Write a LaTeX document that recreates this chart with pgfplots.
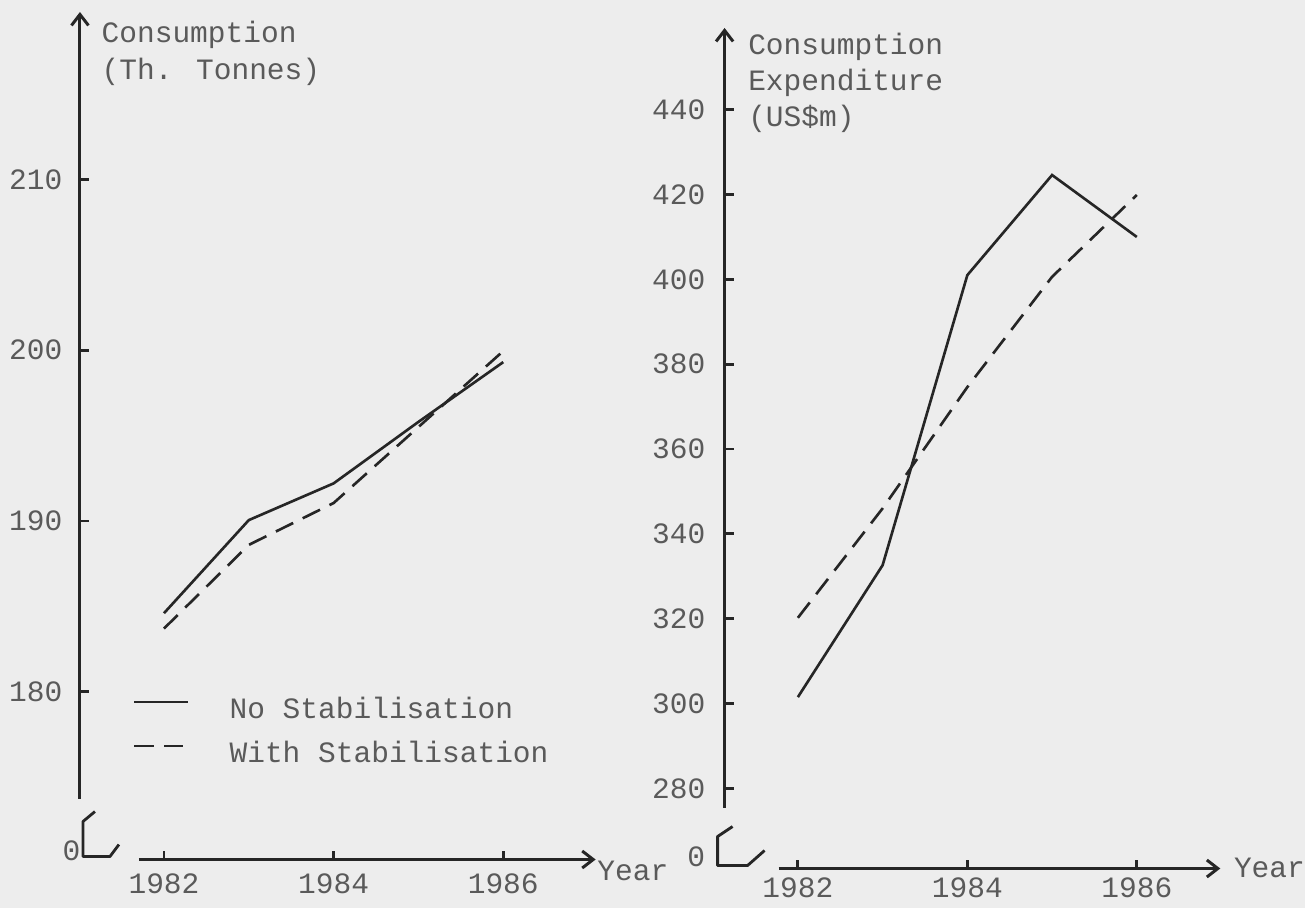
\documentclass[border=0pt]{standalone}
\usepackage{pgfplots}
\usepackage{pgfplotstable}
\pgfplotsset{compat=1.18}
\usepackage{fontspec}
\setmainfont{Liberation Mono}
\usetikzlibrary{arrows.meta}

\definecolor{paper}{HTML}{EDEDED}
\definecolor{ink}{HTML}{262626}
\definecolor{type}{HTML}{5A5A5A}

% Consumption, thousand tonnes
\pgfplotstableread{
year nostab withstab
1982 184.6 183.7
1983 190.05 188.6
1984 192.2 191.05
1985 195.8 195.5
1986 199.3 199.95
}\tonnes

% Consumption expenditure, US$ million
\pgfplotstableread{
year nostab withstab
1982 301.5 320.2
1983 332.6 346.0
1984 401.0 374.6
1985 424.6 400.6
1986 410.0 419.9
}\expend

\newcommand{\tw}{\fontsize{8.4pt}{10pt}\selectfont}

\pgfplotsset{
  panel/.style={
    scale only axis,
    axis x line*=bottom, axis y line*=left,
    x axis line style={draw=none}, y axis line style={draw=none},
    tick align=inside,
    major tick length=0.09cm,
    every tick/.style={ink, line width=0.8pt},
    minor tick num=0,
    /pgf/number format/1000 sep={},
    /pgf/number format/assume math mode=true,
    ticklabel style={font=\tw, text=type, inner sep=0pt},
    clip=false,
  },
  nostab/.style={ink, line width=0.75pt},
  withstab/.style={ink, line width=0.75pt, dash pattern=on 5.5pt off 3pt},
}

\begin{document}
\begin{tikzpicture}
\fill[paper] (0,0) rectangle (13.05,9.08);

% left panel: quantity consumed
\begin{axis}[panel,
  at={(0.80cm,0.48cm)}, anchor=south west,
  width=5.14cm, height=8.47cm,
  xmin=1981.01, xmax=1987.07, ymin=170.15, ymax=219.74,
  xtick={1982,1984,1986}, ytick={180,190,200,210},
  yticklabel style={anchor=east, xshift=-0.17cm},
  xticklabel style={anchor=north, yshift=-0.13cm},
  legend style={draw=none, fill=none, at={(axis description cs:0.103,0.150)}, anchor=west,
     inner sep=0pt, outer sep=0pt, font=\tw, text=type, row sep=0.19cm,
     nodes={inner sep=0pt, text height=0.2cm, text depth=0.05cm},
     cells={anchor=west}},
  legend image code/.code={\draw[#1] (0cm,0.09cm) -- (0.54cm,0.09cm); \path (0.94cm,0cm);},
]
\addplot[nostab] table[x=year, y=nostab] {\tonnes};
\addplot[withstab] table[x=year, y=withstab] {\tonnes};
\legend{No Stabilisation, With Stabilisation}
\end{axis}

% right panel: consumption expenditure
\begin{axis}[panel,
  at={(7.25cm,0.39cm)}, anchor=south west,
  width=4.94cm, height=8.40cm,
  xmin=1981.14, xmax=1986.97, ymin=260.97, ymax=459.03,
  xtick={1982,1984,1986}, ytick={280,300,...,440},
  yticklabel style={anchor=east, xshift=-0.19cm},
  xticklabel style={anchor=north, yshift=-0.08cm},
]
\addplot[nostab] table[x=year, y=nostab] {\expend};
\addplot[withstab] table[x=year, y=withstab] {\expend};
\end{axis}

% hand-drawn axis lines, breaks and captions (units: 0.01cm, y downward)
\begin{scope}[x=0.01cm, y=-0.01cm, yshift=9.08cm,
  axisline/.style={ink, line width=0.85pt, -{Straight Barb[length=0.11cm, width=0.17cm]}},
  brk/.style={ink, line width=0.8pt, line join=round},
  caption/.style={font=\tw, text=type, anchor=base west, inner sep=0pt}]
  % left
  \draw[axisline] (80,799) -- (80,12);
  \draw[axisline] (139,860) -- (596,860);
  \draw[brk] (95,812) -- (83,822) -- (83,857) -- (110,857) -- (119,845);
  \node[caption] at (62,861) {0};
  \node[caption] at (101,43) {Consumption};
  \node[caption] at (101,80) {(Th. Tonnes)};
  \node[caption] at (597,881) {Year};
  % right
  \draw[axisline] (725,808) -- (725,28);
  \draw[axisline] (779,869) -- (1221,869);
  \draw[brk] (733,827) -- (718,837) -- (718,866) -- (748,866) -- (765,851);
  \node[caption] at (687,867) {0};
  \node[caption] at (748,55) {Consumption};
  \node[caption] at (748,91) {Expenditure};
  \node[caption] at (748,127) {(US\$m)};
  \node[caption] at (1234,878) {Year};
\end{scope}

\pgfresetboundingbox
\useasboundingbox (0,0) rectangle (13.05,9.08);
\end{tikzpicture}
\end{document}
